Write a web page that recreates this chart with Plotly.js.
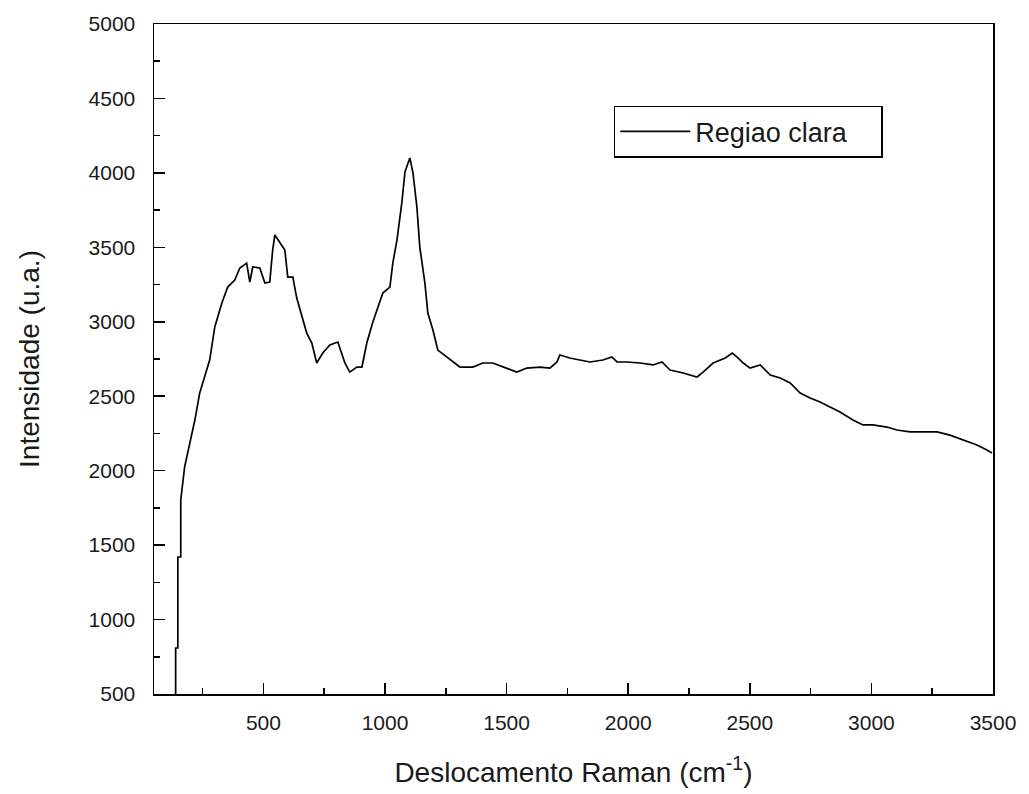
<!DOCTYPE html>
<html>
<head>
<meta charset="utf-8">
<script src="https://cdn.plot.ly/plotly-3.0.1.min.js"></script>
<style>html,body{margin:0;padding:0;background:#fff;}#chart{width:1029px;height:794px;}</style>
</head>
<body>
<div id="chart"></div>
<script>
const ramanShift = [139,139,148,148,160,160,176,197,218,238,259,279,300,329,353,382,403,431,444,456,485,506,526,538,547,567,588,600,621,637,658,678,699,719,744,773,806,822,835,855,884,905,925,950,991,1020,1032,1049,1069,1082,1102,1115,1131,1143,1164,1176,1197,1217,1254,1308,1361,1402,1443,1501,1542,1583,1637,1678,1707,1719,1760,1801,1843,1896,1933,1954,1995,2049,2102,2139,2172,2226,2283,2308,2349,2399,2428,2448,2473,2501,2543,2584,2625,2666,2707,2748,2789,2830,2871,2924,2965,3006,3064,3105,3159,3212,3270,3323,3377,3434,3475,3496];
const intensity = [500,809,809,1420,1420,1803,2025,2186,2340,2522,2629,2743,2965,3126,3233,3280,3361,3394,3267,3368,3361,3260,3267,3482,3583,3529,3482,3300,3300,3159,3032,2924,2857,2723,2790,2844,2864,2790,2723,2662,2696,2696,2857,2998,3193,3233,3394,3549,3798,4006,4100,3999,3771,3502,3260,3059,2945,2810,2763,2696,2696,2723,2723,2689,2662,2689,2696,2689,2730,2777,2757,2743,2730,2743,2763,2730,2730,2723,2710,2730,2676,2656,2629,2662,2723,2757,2790,2763,2723,2689,2710,2642,2622,2589,2521,2488,2461,2427,2394,2340,2307,2307,2293,2273,2260,2260,2260,2239,2206,2172,2139,2119];
const seriesName = 'Regiao clara';
const xTickVals = [500,1000,1500,2000,2500,3000,3500];
const yTickVals = [500,1000,1500,2000,2500,3000,3500,4000,4500,5000];

const fam = 'Liberation Sans, Arial, sans-serif';
const tickFont = {family: fam, size: 21, color: '#1a1a1a'};
const titleFont = {family: fam, size: 28, color: '#1a1a1a'};

const trace = {
  x: ramanShift, y: intensity, type: 'scatter', mode: 'lines', name: seriesName,
  line: {color: '#000', width: 1.7}
};

const layout = {
  width: 1029, height: 794,
  margin: {l: 154, r: 36, t: 24, b: 100},
  paper_bgcolor: '#fff', plot_bgcolor: '#fff',
  showlegend: true,
  legend: {
    x: 0.548, y: 0.878, xanchor: 'left', yanchor: 'top',
    orientation: 'h', entrywidth: 181,
    bordercolor: '#000', borderwidth: 1.5, bgcolor: '#fff',
    font: {family: fam, size: 27, color: '#1a1a1a'},
    itemwidth: 70
  },
  xaxis: {
    range: [50, 3500], tickvals: xTickVals, ticktext: xTickVals.map(String),
    ticks: 'inside', ticklen: 11, tickwidth: 1.5, tickcolor: '#000',
    minor: {ticks: 'inside', ticklen: 6, tickwidth: 1.5, tickcolor: '#000', dtick: 250, tick0: 0},
    showline: true, linecolor: '#000', linewidth: 1.5, mirror: true,
    showgrid: false, zeroline: false, tickfont: tickFont, ticklabelstandoff: 9,
    title: {text: 'Deslocamento Raman (cm<sup>-1</sup>)', font: titleFont, standoff: 29},
    automargin: false
  },
  yaxis: {
    range: [500, 5000], tickvals: yTickVals, ticktext: yTickVals.map(String),
    ticks: 'inside', ticklen: 11, tickwidth: 1.5, tickcolor: '#000',
    minor: {ticks: 'inside', ticklen: 6, tickwidth: 1.5, tickcolor: '#000', dtick: 250, tick0: 0},
    showline: true, linecolor: '#000', linewidth: 1.5, mirror: true,
    showgrid: false, zeroline: false, tickfont: tickFont, ticklabelstandoff: 13,
    title: {text: 'Intensidade (u.a.)', font: titleFont, standoff: 41},
    automargin: false
  }
};

Plotly.newPlot('chart', [trace], layout, {displayModeBar: false, staticPlot: true});
</script>
</body>
</html>
